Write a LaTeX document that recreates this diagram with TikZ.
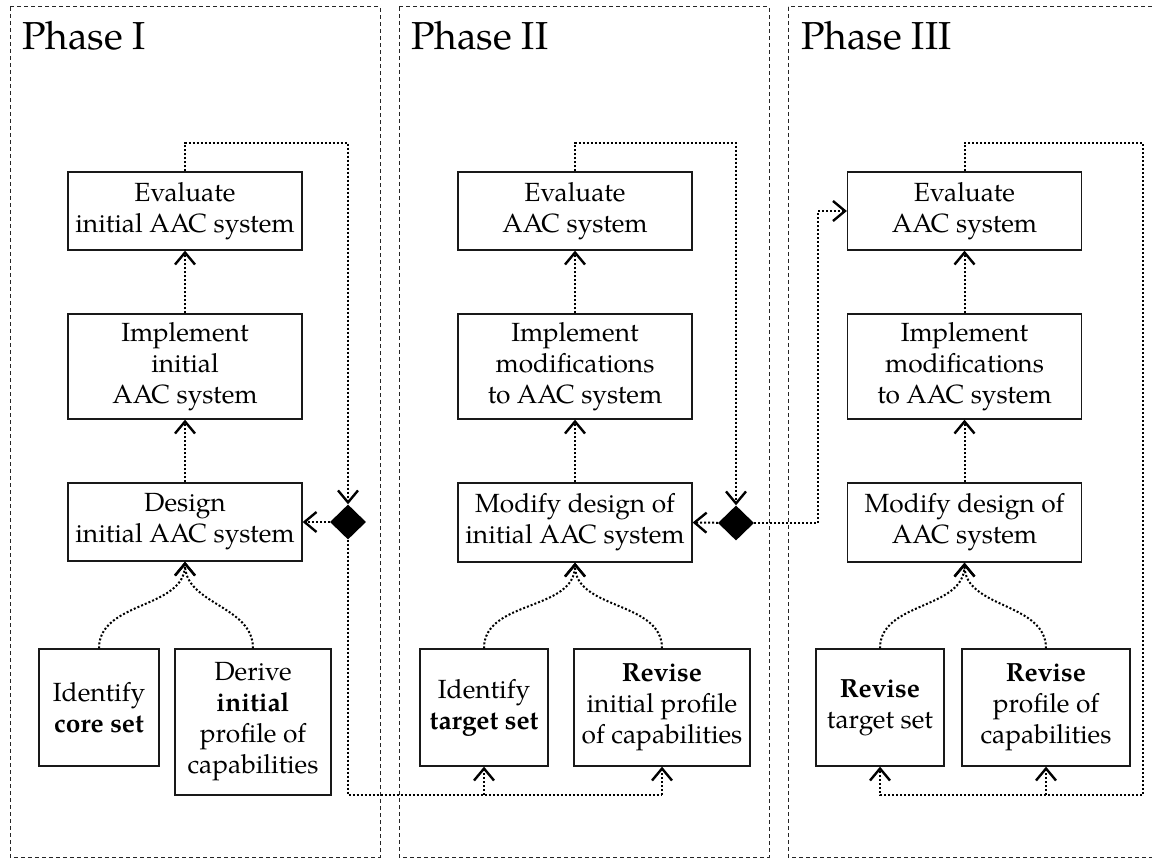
\documentclass[tikz,border=0pt]{standalone}
\usepackage{fontspec}
\setmainfont{TeX Gyre Pagella}
\usetikzlibrary{arrows.meta,shapes.geometric}

\tikzset{
  panel/.style={draw=black!85, line width=1pt, dash pattern=on 4pt off 3pt},
  title/.style={anchor=base west, inner sep=0pt, font=\fontsize{39pt}{44pt}\selectfont},
  stage/.style={draw=black!90, line width=1.3pt, align=center, inner sep=0pt,
    font=\fontsize{26.3pt}{31pt}\selectfont},
  topbox/.style={stage, minimum width=234pt},
  lowbox/.style={stage, minimum height=117pt},
  merge/.style={diamond, fill=black, draw=none, inner sep=0pt,
    minimum width=36pt, minimum height=35pt},
  flow/.style={line width=2pt, dash pattern=on 2pt off 2pt},
  arr/.style={flow, -{Straight Barb[length=12pt,width=20pt,line width=2.4pt]}}
}

\begin{document}
\begin{tikzpicture}[x=1pt, y=-1pt]
\useasboundingbox (0,0) rectangle (1152,861);

% phase frames
\draw[panel] (10,7) rectangle (380,857);
\draw[panel] (399,7) rectangle (769,857);
\draw[panel] (788,7) rectangle (1170,857);

\node[title] (p1) at (22,50) {Phase I};
\node[title] (p2) at (411,50) {Phase II};
\node[title] (p3) at (801,50) {Phase III};

% Phase I
\node[topbox, minimum height=78pt]  (ev1) at (185,211)   {Evaluate\\initial AAC system};
\node[topbox, minimum height=105pt] (im1) at (185,366.5) {Implement\\initial\\AAC system};
\node[topbox, minimum height=78pt]  (de1) at (185,522)   {Design\\initial AAC system};
\node[lowbox, minimum width=120pt]  (id1) at (99,707.5)  {Identify\\\textbf{core set}};
\node[lowbox, minimum width=156pt, minimum height=146pt] (dr1) at (253,722)
  {Derive\\\textbf{initial}\\profile of\\capabilities};
\node[merge] (d1) at (348,522) {};

% Phase II
\node[topbox, minimum height=78pt]  (ev2) at (575,211)   {Evaluate\\AAC system};
\node[topbox, minimum height=105pt] (im2) at (575,366.5) {Implement\\modifications\\to AAC system};
\node[topbox, minimum height=79pt]  (de2) at (575,522.5) {Modify design of\\initial AAC system};
\node[lowbox, minimum width=128pt]  (id2) at (484,707.5) {Identify\\\textbf{target set}};
\node[lowbox, minimum width=176pt]  (rv2) at (662,707.5) {\textbf{Revise}\\initial profile\\of capabilities};
\node[merge] (d2) at (736,523) {};

% Phase III
\node[topbox, minimum height=78pt]  (ev3) at (964.5,211)   {Evaluate\\AAC system};
\node[topbox, minimum height=105pt] (im3) at (964.5,366.5) {Implement\\modifications\\to AAC system};
\node[topbox, minimum height=79pt]  (de3) at (964.5,522.5) {Modify design of\\AAC system};
\node[lowbox, minimum width=128pt]  (rt3) at (880,707.5)   {\textbf{Revise}\\target set};
\node[lowbox, minimum width=168pt]  (rp3) at (1046,707.5)  {\textbf{Revise}\\profile of\\capabilities};

% routing points
\coordinate (t1) at (348,143);
\coordinate (b1) at (662,795);
\coordinate (t2) at (736,143);
\coordinate (j3) at (818,211);
\coordinate (t3) at (1143,143);
\coordinate (b3) at (1143,795);

% Phase I connectors
\draw[arr] (im1) -- (ev1);
\draw[arr] (de1) -- (im1);
\draw[arr] (id1.north) to[out=90, in=-90] (de1.south);
\draw[arr] (dr1.north) to[out=90, in=-90] (de1.south);
\draw[arr] (d1) -- (de1.east);
\draw[arr] (ev1.north) |- (t1) -- (d1.north);
\draw[flow] (d1.south) |- (b1);
\draw[arr] (b1) -- (rv2.south);
\draw[arr] (id2.south |- b1) -- (id2.south);

% Phase II connectors
\draw[arr] (im2) -- (ev2);
\draw[arr] (de2) -- (im2);
\draw[arr] (id2.north) to[out=90, in=-90] (de2.south);
\draw[arr] (rv2.north) to[out=90, in=-90] (de2.south);
\draw[arr] (d2) -- (de2.east);
\draw[arr] (ev2.north) |- (t2) -- (d2.north);
\draw[arr] (d2.east) -| (j3) -- (ev3.west);

% Phase III connectors
\draw[arr] (im3) -- (ev3);
\draw[arr] (de3) -- (im3);
\draw[arr] (rt3.north) to[out=90, in=-90] (de3.south);
\draw[arr] (rp3.north) to[out=90, in=-90] (de3.south);
\draw[arr] (ev3.north) |- (t3) -- (b3) -- (rt3.south |- b3) -- (rt3.south);
\draw[arr] (rp3.south |- b3) -- (rp3.south);
\end{tikzpicture}
\end{document}
